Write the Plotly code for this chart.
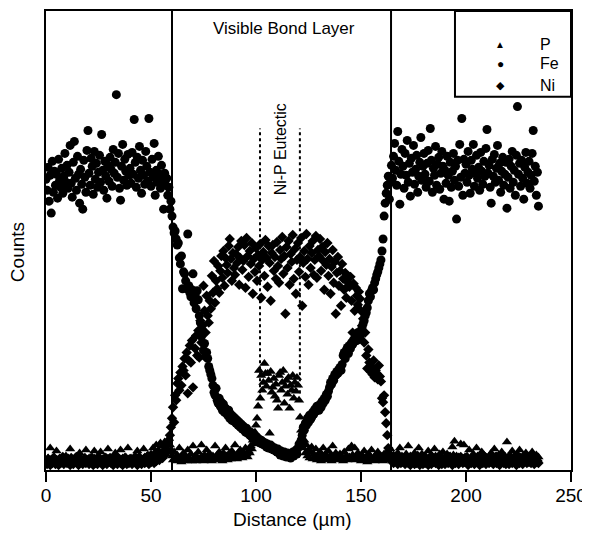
import plotly.graph_objects as go

# ---------------------------------------------------------
# Line scan across the bond layer (counts in arbitrary units)
# sampled every 0.5 um from 0 to 234.5 um
# ---------------------------------------------------------
distance = [i * 0.5 for i in range(470)]

fe_counts = [
    292, 281, 304, 270, 296, 258, 310, 279, 300, 286, 297, 273, 312, 291, 284, 303, 278, 295, 318, 289,
    306, 283, 299, 326, 288, 274, 309, 330, 293, 281, 315, 297, 268, 302, 287, 262, 311, 294, 279, 321,
    341, 298, 286, 313, 305, 277, 320, 292, 308, 284, 299, 316, 289, 337, 301, 281, 310, 295, 273, 306,
    290, 314, 302, 285, 322, 298, 309, 377, 294, 318, 283, 271, 305, 327, 291, 312, 300, 286, 317, 296,
    303, 288, 319, 297, 352, 309, 284, 314, 293, 325, 301, 278, 311, 296, 287, 320, 305, 290, 353, 299,
    285, 312, 294, 328, 276, 301, 289, 315, 297, 283, 306, 291, 262, 298, 286, 293, 276, 284, 262, 270,
    255, 244, 238, 240, 232, 226, 228, 213, 207, 215, 182, 199, 197, 190, 182, 237, 185, 178, 174, 181,
    197, 168, 176, 162, 180, 171, 155, 148, 134, 140, 120, 127, 114, 118, 112, 104, 100, 96, 92, 85,
    78, 75, 82, 70, 67, 72, 64, 68, 60, 66, 58, 62, 57, 55, 60, 52, 56, 50, 54, 49,
    52, 47, 50, 45, 48, 43, 46, 41, 44, 40, 38, 42, 37, 39, 35, 38, 33, 36, 31, 34,
    30, 33, 29, 31, 27, 30, 26, 28, 25, 27, 23, 26, 22, 24, 25, 21, 23, 20, 22, 19,
    18, 21, 17, 15, 19, 16, 14, 18, 15, 13, 17, 14, 16, 12, 15, 18, 14, 17, 20, 16,
    22, 26, 24, 30, 35, 43, 40, 47, 45, 52, 48, 55, 51, 53, 58, 56, 61, 59, 64, 62,
    60, 66, 63, 69, 67, 72, 70, 76, 74, 79, 83, 88, 86, 92, 90, 96, 95, 99, 97, 101,
    103, 100, 106, 115, 118, 112, 120, 123, 117, 125, 122, 128, 126, 131, 129, 134, 130, 138, 135, 133,
    138, 143, 147, 150, 155, 158, 163, 170, 177, 174, 180, 183, 181, 188, 192, 196, 199, 203, 207, 211,
    220, 232, 255, 268, 278, 286, 295, 272, 289, 306, 293, 315, 328, 301, 286, 340, 310, 267, 297, 322,
    305, 283, 318, 296, 331, 289, 308, 275, 313, 299, 326, 287, 302, 316, 279, 295, 309, 334, 291, 305,
    318, 297, 284, 308, 321, 290, 343, 311, 279, 303, 296, 325, 286, 307, 314, 282, 298, 320, 305, 272,
    301, 288, 315, 296, 270, 309, 284, 300, 318, 291, 305, 252, 311, 285, 327, 294, 353, 276, 312, 298,
    307, 289, 320, 296, 278, 311, 302, 327, 285, 298, 316, 293, 304, 281, 319, 300, 287, 310, 295, 323,
    342, 298, 306, 284, 268, 312, 295, 317, 289, 303, 326, 291, 308, 279, 300, 314, 286, 297, 309, 263,
    294, 312, 283, 305, 320, 289, 301, 276, 316, 365, 297, 308, 285, 311, 293, 272, 304, 319, 288, 299,
    310, 283, 296, 318, 341, 290, 305, 276, 299, 265,
]

ni_counts = [
    9, 6, 11, 8, 5, 10, 7, 12, 8, 6, 10, 9, 5, 11, 7, 9, 13, 6, 8, 10,
    7, 11, 9, 5, 12, 8, 6, 10, 9, 13, 7, 5, 11, 8, 10, 6, 9, 12, 7, 8,
    10, 6, 8, 12, 9, 5, 11, 7, 9, 6, 13, 8, 10, 7, 5, 9, 12, 8, 6, 11,
    8, 12, 7, 9, 5, 10, 8, 13, 6, 9, 11, 7, 10, 5, 8, 12, 9, 6, 10, 7,
    11, 8, 6, 10, 9, 13, 7, 5, 12, 8, 10, 6, 9, 11, 7, 8, 13, 10, 6, 9,
    8, 12, 10, 7, 14, 9, 11, 15, 10, 13, 16, 12, 18, 15, 21, 19, 26, 30, 35, 43,
    52, 63, 48, 75, 70, 87, 92, 80, 98, 85, 104, 100, 112, 95, 118, 77, 110, 125, 108, 130,
    83, 177, 122, 135, 115, 140, 113, 150, 128, 145, 185, 160, 138, 175, 155, 148, 170, 162, 195, 178,
    210, 168, 190, 182, 205, 178, 200, 215, 193, 220, 185, 213, 206, 198, 225, 232, 212, 190, 218, 203,
    196, 217, 208, 224, 186, 213, 230, 201, 210, 226, 183, 233, 215, 194, 220, 207, 228, 177, 212, 199,
    223, 190, 216, 205, 227, 173, 211, 219, 195, 231, 213, 184, 225, 208, 170, 218, 226, 200, 214, 192,
    229, 205, 188, 221, 212, 234, 197, 215, 157, 224, 203, 230, 186, 217, 209, 236, 192, 222, 177, 211,
    228, 199, 214, 233, 165, 208, 220, 194, 237, 212, 186, 225, 203, 218, 230, 196, 211, 235, 193, 221,
    215, 232, 200, 224, 210, 181, 219, 206, 228, 195, 212, 177, 204, 221, 188, 209, 157, 198, 214, 185,
    200, 165, 207, 192, 181, 198, 173, 189, 185, 184, 194, 170, 138, 187, 160, 183, 175, 166, 179, 172,
    160, 145, 152, 128, 138, 115, 102, 121, 108, 99, 104, 96, 110, 93, 100, 97, 91, 105, 94, 89,
    72, 68, 75, 58, 47, 35, 22, 16, 12, 9, 11, 7, 10, 13, 8, 6, 12, 9, 7, 10,
    8, 11, 6, 9, 12, 7, 10, 5, 9, 13, 8, 6, 11, 7, 10, 9, 5, 12, 8, 6,
    10, 7, 12, 8, 5, 11, 9, 6, 13, 8, 10, 7, 9, 12, 5, 8, 11, 6, 10, 9,
    6, 9, 11, 7, 13, 8, 10, 5, 9, 12, 7, 11, 8, 6, 10, 13, 9, 7, 11, 8,
    12, 8, 5, 10, 9, 7, 11, 13, 6, 9, 8, 12, 10, 5, 9, 11, 7, 8, 13, 6,
    9, 11, 7, 12, 8, 10, 6, 9, 13, 7, 11, 8, 5, 10, 12, 9, 7, 11, 6, 8,
    10, 6, 9, 12, 7, 11, 8, 13, 5, 9, 10, 7, 12, 8, 6, 11, 9, 13, 7, 10,
    8, 11, 7, 9, 12, 6, 10, 8, 9, 7,
]

p_counts = [
    10, 7, 12, 8, 22, 9, 6, 11, 13, 8, 19, 10, 7, 12, 9, 6, 11, 8, 10, 14,
    9, 12, 7, 21, 10, 8, 11, 6, 13, 9, 10, 7, 17, 12, 8, 10, 6, 11, 20, 9,
    7, 12, 10, 8, 13, 6, 19, 11, 9, 7, 12, 10, 18, 8, 11, 9, 6, 13, 10, 21,
    8, 11, 9, 12, 7, 10, 17, 13, 8, 6, 11, 20, 9, 12, 10, 7, 13, 8, 22, 11,
    9, 12, 7, 10, 13, 8, 11, 19, 9, 14, 12, 10, 8, 21, 13, 11, 9, 15, 12, 10,
    16, 12, 22, 14, 18, 25, 15, 20, 13, 27, 17, 24, 19, 28, 16, 22, 30, 18, 25, 20,
    14, 10, 18, 12, 9, 15, 11, 22, 13, 8, 12, 17, 10, 14, 9, 20, 12, 11, 16, 9,
    24, 11, 14, 9, 13, 18, 10, 12, 25, 13, 9, 15, 11, 20, 14, 10, 16, 12, 9, 14,
    12, 24, 10, 15, 13, 18, 11, 14, 9, 17, 12, 22, 14, 10, 16, 13, 11, 19, 15, 12,
    25, 14, 11, 17, 13, 20, 15, 12, 18, 14, 22, 16, 13, 19, 17, 24, 21, 30, 26, 38,
    45, 52, 64, 100, 72, 95, 80, 88, 107, 97, 84, 97, 90, 37, 99, 78, 83, 92, 74, 86,
    70, 62, 95, 98, 80, 88, 100, 67, 84, 90, 76, 93, 62, 85, 80, 95, 72, 88, 79, 93,
    85, 70, 53, 40, 28, 22, 30, 17, 25, 14, 20, 12, 18, 23, 11, 16, 13, 21, 10, 15,
    12, 18, 9, 14, 22, 11, 16, 13, 10, 19, 12, 15, 9, 24, 13, 11, 17, 10, 14, 12,
    16, 11, 13, 9, 18, 12, 14, 10, 21, 13, 11, 24, 15, 12, 22, 10, 14, 17, 11, 13,
    9, 15, 12, 19, 10, 13, 8, 16, 11, 14, 20, 10, 12, 9, 15, 11, 18, 13, 10, 14,
    12, 9, 16, 11, 13, 18, 10, 14, 21, 12, 9, 15, 11, 13, 8, 17, 12, 22, 10, 14,
    11, 13, 9, 16, 12, 24, 10, 14, 8, 13, 11, 17, 12, 9, 15, 22, 13, 10, 16, 11,
    9, 14, 12, 10, 19, 13, 11, 15, 9, 12, 21, 14, 10, 13, 8, 16, 12, 11, 18, 10,
    13, 11, 16, 12, 9, 14, 10, 23, 15, 29, 12, 14, 10, 13, 11, 26, 12, 9, 25, 13,
    10, 14, 12, 20, 11, 13, 9, 16, 12, 10, 22, 14, 11, 13, 9, 18, 12, 15, 10, 13,
    12, 9, 14, 11, 17, 13, 10, 21, 12, 14, 9, 15, 11, 13, 18, 10, 12, 14, 9, 28,
    13, 11, 15, 10, 19, 12, 14, 9, 13, 16, 11, 20, 12, 10, 14, 13, 9, 17, 11, 12,
    14, 10, 13, 18, 11, 12, 9, 15, 11, 13,
]

# boundaries of the bond layer and of the eutectic zone (um)
bond_edges = [60, 164.3]
eutectic_edges = [101.9, 120.9]
eutectic_span = [77, 343]

FONT = "Liberation Sans, Arial, sans-serif"

fig = go.Figure()
fig.add_trace(go.Scatter(x=distance, y=p_counts, mode="markers", name="P",
                         marker=dict(symbol="triangle-up", size=9, color="black")))
fig.add_trace(go.Scatter(x=distance, y=fe_counts, mode="markers", name="Fe",
                         marker=dict(symbol="circle", size=9, color="black")))
fig.add_trace(go.Scatter(x=distance, y=ni_counts, mode="markers", name="Ni",
                         marker=dict(symbol="diamond", size=8, color="black")))

# solid lines: visible bond layer
for xe in bond_edges:
    fig.add_shape(type="line", xref="x", yref="paper", x0=xe, x1=xe, y0=0, y1=1,
                  line=dict(color="black", width=2))

# dashed lines: Ni-P eutectic
for xe in eutectic_edges:
    fig.add_shape(type="line", xref="x", yref="y", x0=xe, x1=xe,
                  y0=eutectic_span[0], y1=eutectic_span[1],
                  line=dict(color="black", width=2, dash="3px,3px"))

fig.add_annotation(x=113.5, y=0.962, xref="x", yref="paper", text="Visible Bond Layer",
                   xanchor="center", yanchor="middle",
                   showarrow=False, font=dict(size=17, color="black"))
fig.add_annotation(x=111.4, y=322, xref="x", yref="y", text="Ni-P Eutectic",
                   xanchor="center", yanchor="middle",
                   textangle=-90, showarrow=False, font=dict(size=16, color="black"))

# legend box drawn by hand
fig.add_shape(type="rect", xref="paper", yref="paper", x0=0.779, x1=1.0, y0=0.813, y1=1.0,
              line=dict(color="black", width=2), fillcolor="white")
legend_rows = [("▲", "P", 0.928, 10), ("●", "Fe", 0.885, 12), ("◆", "Ni", 0.838, 11)]
for sym, lab, yy, fs in legend_rows:
    fig.add_annotation(x=0.865, y=yy, xref="paper", yref="paper", text=sym,
                       xanchor="center", yanchor="middle",
                       showarrow=False, font=dict(size=fs, color="black"))
    fig.add_annotation(x=0.937, y=yy, xref="paper", yref="paper", text=lab,
                       xanchor="left", yanchor="middle",
                       showarrow=False, font=dict(size=16, color="black"))

fig.add_annotation(x=-0.053, y=0.475, xref="paper", yref="paper", text="Counts",
                   xanchor="center", yanchor="middle",
                   textangle=-90, showarrow=False, font=dict(size=19, color="black"))
fig.add_annotation(x=0.47, y=-0.108, xref="paper", yref="paper", text="Distance (µm)",
                   xanchor="center", yanchor="middle",
                   showarrow=False, font=dict(size=19, color="black"))

fig.update_xaxes(range=[0, 250], tickvals=[0, 50, 100, 150, 200, 250],
                 showline=True, linecolor="black", linewidth=2, mirror=True,
                 ticks="outside", ticklen=10, tickwidth=2, tickcolor="black",
                 ticklabelstandoff=-3,
                 showgrid=False, zeroline=False, tickfont=dict(size=19))
fig.update_yaxes(range=[0, 461], showline=True, linecolor="black", linewidth=2, mirror=True,
                 showticklabels=False, ticks="", showgrid=False, zeroline=False)

# the page keeps its 8 px body margin; plot area lands at x 46-571, y 9-470
fig.update_layout(
    width=590, height=523,
    margin=dict(l=38, r=27, t=1, b=61),
    plot_bgcolor="white", paper_bgcolor="white",
    font=dict(family=FONT, color="black"),
    showlegend=False,
)

fig.write_html("out.html", config={"displayModeBar": False})
